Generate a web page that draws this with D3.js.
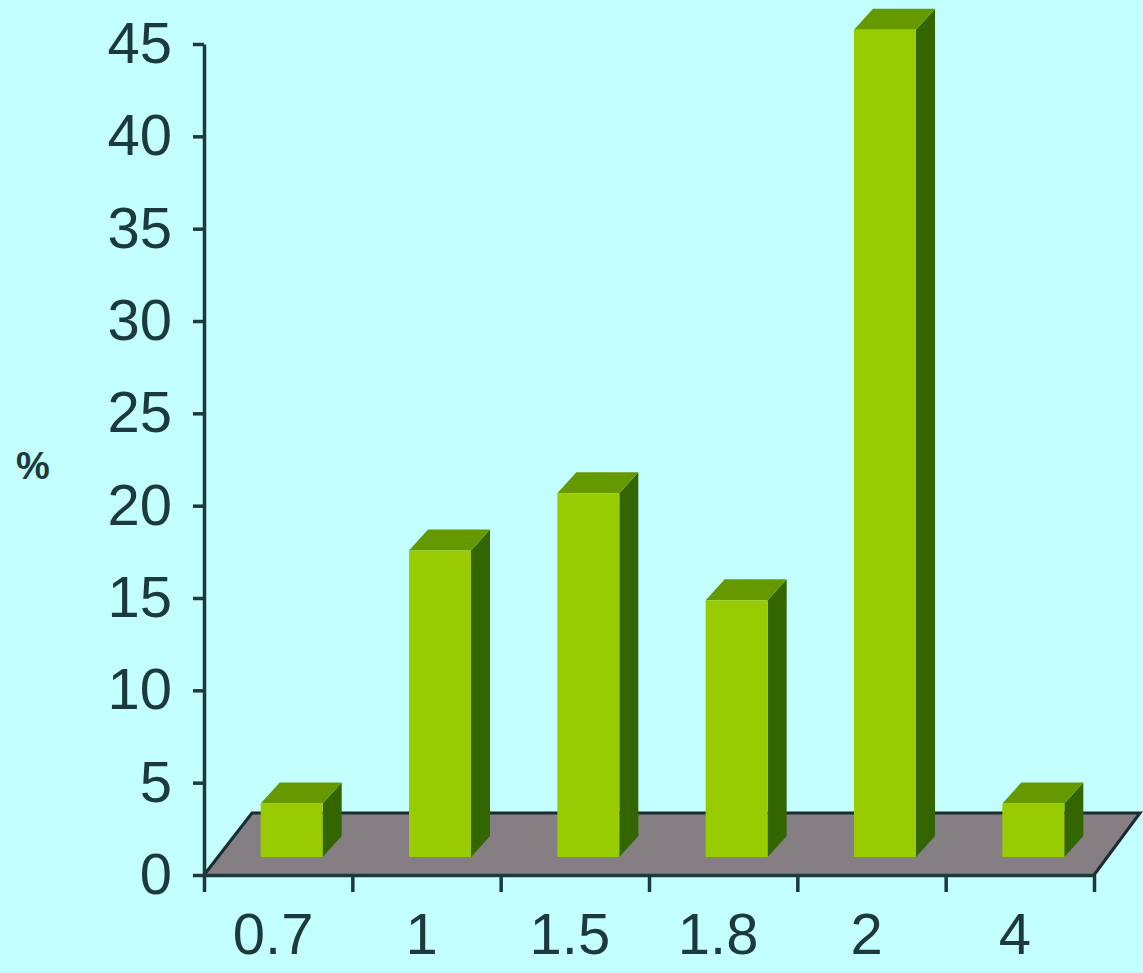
<!DOCTYPE html>
<html>
<head>
<meta charset="utf-8">
<title>Percent by category</title>
<script src="https://cdnjs.cloudflare.com/ajax/libs/d3/7.8.5/d3.min.js"></script>
<style>
  html, body { margin: 0; padding: 0; background: #c3ffff; overflow: hidden; }
  svg { display: block; }
  text { font-family: "Liberation Sans", Arial, sans-serif; fill: #1c3a3e; }
</style>
</head>
<body>
<svg id="chart" width="1143" height="973"></svg>
<script>
// Chart values
const categories = ["0.7", "1", "1.5", "1.8", "2", "4"];
const percents = [2.9, 16.6, 19.7, 13.9, 44.8, 2.9];
const yTicks = [0, 5, 10, 15, 20, 25, 30, 35, 40, 45];

const W = 1143, H = 973;
const plot = { left: 204, right: 1094, bottom: 875, top: 44 };
const floorDepth = { dx: 46, dy: -62 };
const barDepth = { dx: 19, dy: -21 };
const barLift = 18;      // front face sits this far above the axis line
const barShift = 13.5;   // and this far right of its band centre
const barWidth = 62;
const colors = {
  front: "#99cc00", top: "#669900", side: "#336600",
  floor: "#857f84", axis: "#1c3a3e", floorEdge: "#1a2c2e"
};

const svg = d3.select("#chart").attr("viewBox", [0, 0, W, H]);

const y = d3.scaleLinear().domain([0, 45]).range([plot.bottom, plot.top]);
const x = d3.scaleBand().domain(categories).range([plot.left, plot.right]);
const edges = d3.scaleLinear().domain([0, categories.length]).range([plot.left, plot.right]);

const poly = pts => pts.map(p => p.join(",")).join(" ");

// Floor of the 3D plot
svg.append("polygon")
  .attr("points", poly([
    [plot.left, plot.bottom],
    [plot.right, plot.bottom],
    [plot.right + floorDepth.dx, plot.bottom + floorDepth.dy],
    [plot.left + floorDepth.dx + 2, plot.bottom + floorDepth.dy]
  ]))
  .attr("fill", colors.floor);

svg.append("path")
  .attr("d", d3.line()([
    [plot.left, plot.bottom],
    [plot.left + floorDepth.dx + 2, plot.bottom + floorDepth.dy],
    [plot.right + floorDepth.dx, plot.bottom + floorDepth.dy],
    [plot.right, plot.bottom]
  ]))
  .attr("fill", "none")
  .attr("stroke", colors.floorEdge)
  .attr("stroke-width", 3);

// Axes
const yAxis = d3.axisLeft(y).tickValues(yTicks).tickSize(11).tickPadding(21).tickSizeOuter(0);
const gy = svg.append("g").attr("transform", `translate(${plot.left},0)`).call(yAxis);

const gxTicks = svg.append("g").attr("transform", `translate(0,${plot.bottom})`)
  .call(d3.axisBottom(edges).ticks(categories.length).tickSize(17).tickFormat("").tickSizeOuter(0));

const gxLabels = svg.append("g").attr("transform", `translate(-5,${plot.bottom})`)
  .call(d3.axisBottom(x).tickSize(0).tickPadding(38).tickSizeOuter(0));
gxLabels.select(".domain").remove();

[gy, gxTicks].forEach(g => {
  g.selectAll(".domain").attr("stroke", colors.axis).attr("stroke-width", 3.5);
  g.selectAll(".tick line").attr("stroke", colors.axis).attr("stroke-width", 3.5);
});
[gy, gxLabels].forEach(g => {
  g.selectAll("text")
    .attr("font-size", 58)
    .style("font-family", '"Liberation Sans", Arial, sans-serif')
    .attr("fill", colors.axis);
});

// Unit label
svg.append("text")
  .attr("x", 33).attr("y", 479)
  .attr("text-anchor", "middle")
  .attr("font-size", 38)
  .attr("font-weight", "bold")
  .text("%");

// 3D columns
const bars = svg.append("g").selectAll("g")
  .data(categories.map((c, i) => ({ c, v: percents[i] })))
  .join("g");

const l = d => x(d.c) + x.bandwidth() / 2 + barShift - barWidth / 2;
const r = d => l(d) + barWidth;
const b = () => y(0) - barLift;
const t = d => y(d.v) - barLift;

bars.append("polygon")
  .attr("fill", colors.side)
  .attr("points", d => poly([
    [r(d), b()], [r(d), t(d)],
    [r(d) + barDepth.dx, t(d) + barDepth.dy],
    [r(d) + barDepth.dx, b() + barDepth.dy]
  ]));

bars.append("polygon")
  .attr("fill", colors.top)
  .attr("points", d => poly([
    [l(d), t(d)], [r(d), t(d)],
    [r(d) + barDepth.dx, t(d) + barDepth.dy],
    [l(d) + barDepth.dx, t(d) + barDepth.dy]
  ]));

bars.append("rect")
  .attr("fill", colors.front)
  .attr("x", l)
  .attr("y", t)
  .attr("width", barWidth)
  .attr("height", d => b() - t(d));
</script>
</body>
</html>
